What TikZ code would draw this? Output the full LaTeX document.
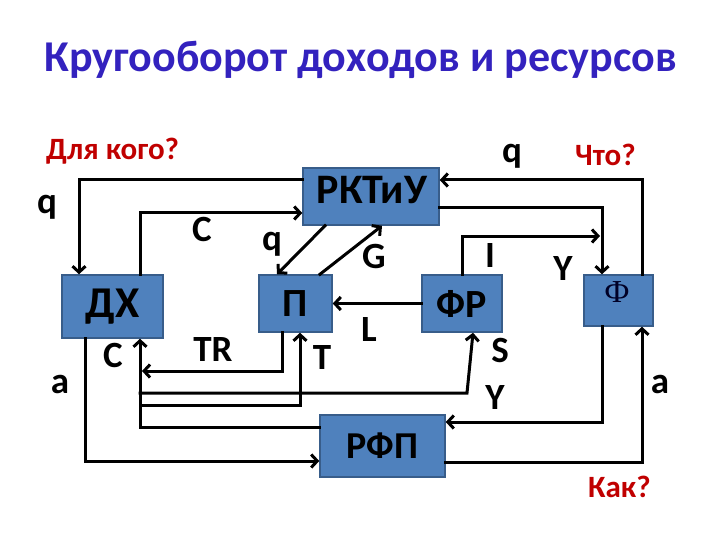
\documentclass[tikz,border=0pt]{standalone}
\usepackage{fontspec}
\setmainfont{Carlito}
\newfontfamily\phifont{Liberation Serif}
\usetikzlibrary{arrows.meta}

\definecolor{titleblue}{RGB}{51,34,190}
\definecolor{askred}{RGB}{192,0,0}
\definecolor{boxfill}{RGB}{79,129,189}
\definecolor{boxline}{RGB}{56,93,138}

\tikzset{
  sector/.style={draw=boxline, fill=boxfill, line width=1.5pt, inner sep=0pt,
    font=\bfseries\fontsize{40}{44}\selectfont},
  flow/.style={->, line width=3pt, line cap=rect},
  lbl/.style={font=\bfseries\fontsize{37}{40}\selectfont, inner sep=0pt},
  ask/.style={text=askred, font=\bfseries\fontsize{31}{34}\selectfont, inner sep=0pt}
}

\begin{document}
\begin{tikzpicture}[x=1pt, y=-1pt, >={Straight Barb[length=6pt,width=13pt]}, line join=miter]

\useasboundingbox (0,0) rectangle (720,540);

% ----------------------------
% TITLE AND QUESTIONS
% ----------------------------
\node[text=titleblue, font=\bfseries\fontsize{44}{50}\selectfont] (title) at (361,60)
  {Кругооборот доходов и ресурсов};
\node[ask, anchor=west] (whom) at (46,151) {Для кого?};
\node[ask, anchor=west] (what) at (575,155) {Что?};
\node[ask, anchor=west] (how) at (588,487) {Как?};

% ----------------------------
% SECTORS
% ----------------------------
\node[sector, minimum width=136, minimum height=57,
  font=\bfseries\fontsize{42}{46}\selectfont] (rktu) at (371,196.5) {};
\node[sector, minimum width=101, minimum height=63,
  font=\bfseries\fontsize{44}{48}\selectfont] (dh) at (112.5,306.5) {ДХ};
\node[sector, minimum width=73, minimum height=57] (p) at (295.5,303.5) {П};
\node[sector, minimum width=80, minimum height=57] (fr) at (462,303.5) {ФР};
\node[sector, minimum width=69, minimum height=51] (f) at (618.5,300.5) {};
\node[sector, minimum width=125, minimum height=62,
  font=\bfseries\fontsize{38}{42}\selectfont] (rfp) at (382.5,446) {РФП};

% box texts that sit above the box centre
\node[font=\bfseries\fontsize{42}{46}\selectfont, inner sep=0pt] (rktuText)
  at (372,190) {РКТиУ};
\node[font=\phifont\fontsize{32}{36}\selectfont, text=black!85!blue, inner sep=0pt]
  (fText) at (617,292) {Ф};

% ----------------------------
% JUNCTIONS ON THE RETURN LINE (x = 140)
% ----------------------------
\coordinate (jS) at (140,393);
\coordinate (jT) at (140,405);
\coordinate (kS) at (467,393);
\coordinate (trEnd) at (142,371);
\coordinate (iEnd) at (600,236);

% ----------------------------
% FLOWS BETWEEN SECTORS
% ----------------------------
% goods market <-> households
\draw[flow] (rktu.west |- 0,180) -| (dh.north -| 79,0);
\draw[flow] (dh.north -| 140,0) |- (rktu.west |- 0,213);

% goods market <-> state
\draw[flow] (rktu.south -| 325,0) -- (p.north -| 277,0);
\draw[flow] (p.north -| 320,0) -- (rktu.south -| 382,0);

% financial market
\draw[flow] (fr.west) -- (p.east);
\draw[flow] (fr.north) |- (iEnd);

% firms <-> goods market
\draw[flow] (rktu.east |- 0,208) -| (f.north -| 602,0);
\draw[flow] (f.north -| 642,0) |- (rktu.east |- 0,180);

% firms <-> factor market
\draw[flow] (f.south -| 602,0) |- (rfp.east |- 0,422);
\draw[flow] (rfp.east |- 0,462) -| (f.south -| 642,0);

% households <-> factor market
\draw[flow] (dh.south -| 85,0) |- (rfp.west |- 0,461);
\draw[flow] (rfp.west |- 0,427) -| (dh.south -| 140,0);

% transfers, taxes, savings
\draw[flow] (p.south -| 282,0) |- (trEnd);
\draw[flow] (jT) -| (p.south -| 300,0);
\draw[flow] (jS) -- (kS) -- (fr.south -| 473,0);

% ----------------------------
% FLOW LABELS
% ----------------------------
\node[lbl] (lq1) at (47,207) {q};
\node[lbl] (lc1) at (202,229) {C};
\node[lbl] (lq2) at (272,244) {q};
\node[lbl] (lg) at (374,256) {G};
\node[lbl] (ll) at (369,330) {L};
\node[lbl] (li) at (490,256) {I};
\node[lbl] (ly1) at (563,269) {Y};
\node[lbl] (lq3) at (512,156) {q};
\node[lbl] (ly2) at (495,398) {Y};
\node[lbl] (ls) at (500,350) {S};
\node[lbl] (la1) at (660,384) {a};
\node[lbl] (la2) at (60,384) {a};
\node[lbl] (lc2) at (113,355) {C};
\node[lbl] (ltr) at (213,350) {TR};
\node[lbl] (lt) at (322,358) {T};

\end{tikzpicture}
\end{document}
